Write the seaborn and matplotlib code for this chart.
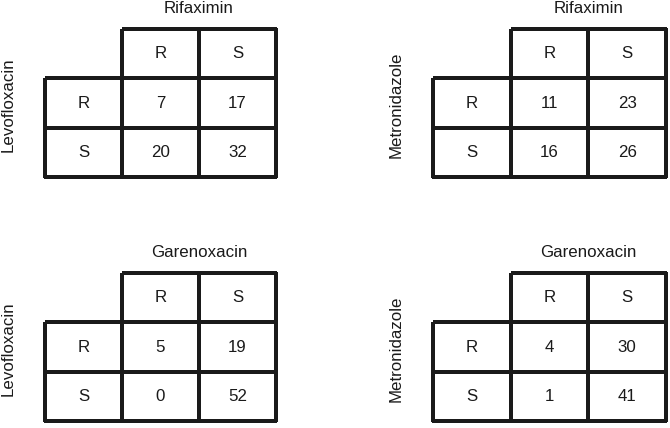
import numpy as np
import matplotlib
matplotlib.use("Agg")
import matplotlib.pyplot as plt
import seaborn as sns
from matplotlib.colors import ListedColormap

# ---- data ----
states = ["R", "S"]
row_drugs = ["Levofloxacin", "Metronidazole", "Levofloxacin", "Metronidazole"]
col_drugs = ["Rifaximin", "Rifaximin", "Garenoxacin", "Garenoxacin"]
lev_rif = [[7, 17], [20, 32]]
met_rif = [[11, 23], [16, 26]]
lev_gar = [[5, 19], [0, 52]]
met_gar = [[4, 30], [1, 41]]
tables = [lev_rif, met_rif, lev_gar, met_gar]

sns.set_style("white")
plt.rcParams["font.family"] = ["Liberation Sans", "DejaVu Sans"]

W, H = 670, 428
fig = plt.figure(figsize=(W / 100, H / 100), dpi=100)
fig.patch.set_facecolor("white")

# axes boxes in pixel coordinates (left, top, right, bottom)
boxes = [(45, 29, 276, 177), (433, 29, 666, 177),
         (45, 273, 276, 421), (433, 273, 666, 421)]
ink = "#1a1a1a"
fs = 12.2

for tbl, rd, cd, (x0, y0, x1, y1) in zip(tables, row_drugs, col_drugs, boxes):
    ax = fig.add_axes([x0 / W, 1 - y1 / H, (x1 - x0) / W, (y1 - y0) / H])
    annot = np.array([[""] + states] +
                     [[s] + [str(v) for v in row] for s, row in zip(states, tbl)])
    mat = np.ones((3, 3))
    mat[1:, 1:] = np.array(tbl, dtype=float)
    mask = np.zeros((3, 3), dtype=bool)
    mask[0, 0] = True
    sns.heatmap(mat, mask=mask, annot=annot, fmt="",
                cmap=ListedColormap(["white"]), cbar=False,
                linewidths=1.7, linecolor=ink,
                annot_kws=dict(size=fs, color=ink),
                xticklabels=False, yticklabels=False, ax=ax)
    mesh = ax.collections[0]
    mesh.set_clip_on(False)
    # no border around the empty corner cell
    mesh.set_edgecolor(["none" if m else ink for m in mask.ravel()])
    ax.text(2 / 3, 1 + 16 / (y1 - y0), cd, transform=ax.transAxes,
            ha="center", va="baseline", fontsize=fs, color=ink)
    ax.text(-37 / (x1 - x0), 0.49, rd, transform=ax.transAxes,
            ha="center", va="center", rotation=90, fontsize=fs, color=ink)
    for s in ax.spines.values():
        s.set_visible(False)

fig.savefig("out.png", dpi=100, facecolor="white")
